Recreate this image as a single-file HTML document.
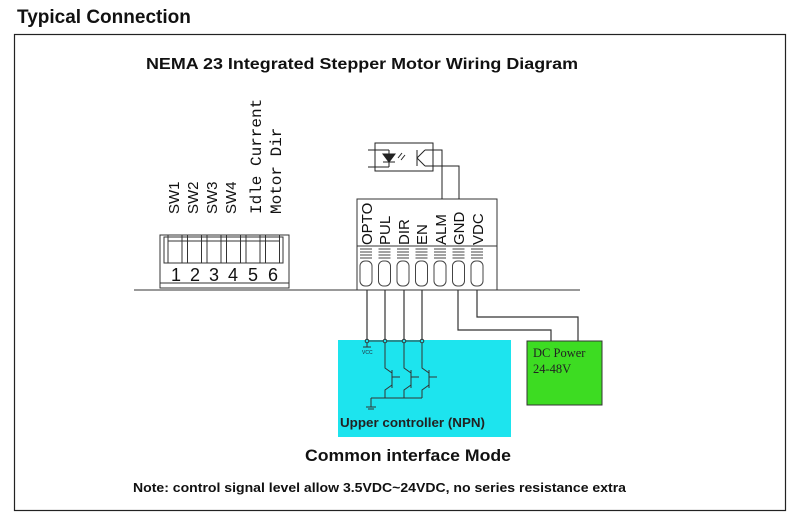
<!DOCTYPE html>
<html><head><meta charset="utf-8"><style>
body{margin:0;background:#fff;}
svg{display:block}
</style></head><body>
<svg width="800" height="521" viewBox="0 0 800 521" xmlns="http://www.w3.org/2000/svg" font-family="Liberation Sans, sans-serif">
<rect x="0" y="0" width="800" height="521" fill="#fff"/>
<text x="17" y="23" font-size="19" font-weight="bold" fill="#111">Typical Connection</text>
<rect x="14.5" y="34.5" width="771" height="476" fill="none" stroke="#222" stroke-width="1.2"/>
<text x="362" y="69" font-size="16" font-weight="bold" text-anchor="middle" fill="#111" textLength="432" lengthAdjust="spacingAndGlyphs">NEMA 23 Integrated Stepper Motor Wiring Diagram</text>

<g stroke="#333" fill="none" stroke-width="1">
<line x1="134" y1="290" x2="580" y2="290"/>
<rect x="160" y="235" width="129" height="53"/>
<line x1="160" y1="283" x2="289" y2="283"/>
<rect x="164" y="237" width="119" height="26" fill="#fff"/>
<g>
<rect x="168" y="235" width="14" height="28"/><rect x="187.5" y="235" width="14" height="28"/>
<rect x="207" y="235" width="14" height="28"/><rect x="226.5" y="235" width="14" height="28"/>
<rect x="246" y="235" width="14" height="28"/><rect x="265.5" y="235" width="14" height="28"/>
<line x1="168" y1="241" x2="280" y2="241"/>
</g>
<rect x="357" y="199" width="140" height="91"/>
<line x1="357" y1="246" x2="497" y2="246"/>
</g>
<g stroke="#444" stroke-width="1" fill="none">
<g id="c">
<line x1="360" y1="249" x2="372" y2="249"/><line x1="360" y1="252" x2="372" y2="252"/><line x1="360" y1="255" x2="372" y2="255"/><line x1="360" y1="258" x2="372" y2="258"/>
<rect x="360" y="261" width="12" height="25" rx="5"/>
</g>
<use href="#c" x="18.5"/><use href="#c" x="37"/><use href="#c" x="55.5"/><use href="#c" x="74"/><use href="#c" x="92.5"/><use href="#c" x="111"/>
</g>
<g font-size="18" fill="#111" text-anchor="middle">
<text x="176" y="281">1</text><text x="195" y="281">2</text><text x="214" y="281">3</text>
<text x="233" y="281">4</text><text x="253" y="281">5</text><text x="273" y="281">6</text>
</g>
<g font-size="15" fill="#111">
<text transform="translate(179,214) rotate(-90)">SW1</text>
<text transform="translate(198,214) rotate(-90)">SW2</text>
<text transform="translate(217,214) rotate(-90)">SW3</text>
<text transform="translate(236,214) rotate(-90)">SW4</text>
<text transform="translate(261,214) rotate(-90)" font-family="Liberation Mono, monospace" font-size="16">Idle Current</text>
<text transform="translate(281,214) rotate(-90)" font-family="Liberation Mono, monospace" font-size="16">Motor Dir</text>
</g>
<g font-size="15" fill="#111">
<text transform="translate(372,245) rotate(-90)">OPTO</text>
<text transform="translate(390,245) rotate(-90)">PUL</text>
<text transform="translate(409,245) rotate(-90)">DIR</text>
<text transform="translate(427,245) rotate(-90)">EN</text>
<text transform="translate(446,245) rotate(-90)">ALM</text>
<text transform="translate(464,245) rotate(-90)">GND</text>
<text transform="translate(483,245) rotate(-90)">VDC</text>
</g>
<g stroke="#222" fill="none" stroke-width="1">
<rect x="375" y="143" width="58" height="28"/>
<line x1="368" y1="150" x2="389" y2="150"/><line x1="368" y1="167" x2="389" y2="167"/>
<line x1="389" y1="150" x2="389" y2="167"/>
<path d="M383 154 L395 154 L389 162 Z" fill="#222"/>
<line x1="383" y1="162" x2="395" y2="162"/>
<line x1="398" y1="158" x2="402" y2="153"/><line x1="401" y1="160" x2="405" y2="155"/>
<line x1="417" y1="150" x2="417" y2="166"/>
<line x1="417" y1="158" x2="425" y2="150"/><line x1="417" y1="158" x2="425" y2="166"/>
<polyline points="425,150 442,150 442,199"/>
<polyline points="425,166 459,166 459,199"/>
</g>
<g stroke="#333" fill="none" stroke-width="1.2">
<line x1="367" y1="290" x2="367" y2="341"/>
<line x1="385" y1="290" x2="385" y2="341"/>
<line x1="404" y1="290" x2="404" y2="341"/>
<line x1="422" y1="290" x2="422" y2="341"/>
<polyline points="458,290 458,330 551,330 551,341"/>
<polyline points="477,290 477,317 578,317 578,341"/>
</g>
<rect x="338" y="340" width="173" height="97" fill="#1de4ee"/>
<rect x="527" y="341" width="75" height="64" fill="#3ddc22" stroke="#333" stroke-width="1"/>
<text x="533" y="357" font-family="Liberation Serif, serif" font-size="12.5" fill="#222">DC Power</text>
<text x="533" y="373" font-family="Liberation Serif, serif" font-size="12.5" fill="#222">24-48V</text>
<g stroke="#333" fill="none" stroke-width="1">
<line x1="367" y1="341" x2="422" y2="341"/>
<circle cx="367" cy="341" r="1.8" fill="#1de4ee"/><circle cx="385" cy="341" r="1.8" fill="#1de4ee"/>
<circle cx="404" cy="341" r="1.8" fill="#1de4ee"/><circle cx="422" cy="341" r="1.8" fill="#1de4ee"/>
<line x1="367" y1="343" x2="367" y2="347"/><line x1="363" y1="347" x2="371" y2="347"/>
<g id="t"><polyline points="385,343 385,368 392,373"/><polyline points="392,385 385,390 385,398"/><line x1="392" y1="370" x2="392" y2="388"/><line x1="392" y1="377" x2="400" y2="377"/></g>
<use href="#t" x="19"/><use href="#t" x="37"/>
<line x1="371" y1="398" x2="422" y2="398"/>
<line x1="371" y1="398" x2="371" y2="407"/><line x1="366" y1="407" x2="376" y2="407"/><line x1="368" y1="409" x2="374" y2="409"/>
</g>
<text x="362" y="354" font-size="5" fill="#223">VCC</text>
<text x="340" y="427" font-size="13" font-weight="bold" fill="#222" textLength="145" lengthAdjust="spacingAndGlyphs">Upper controller (NPN)</text>
<text x="305" y="461" font-size="16.5" font-weight="bold" fill="#111" textLength="206" lengthAdjust="spacingAndGlyphs">Common interface Mode</text>
<text x="133" y="492" font-size="13" font-weight="bold" fill="#111" textLength="493" lengthAdjust="spacingAndGlyphs">Note: control signal level allow 3.5VDC~24VDC, no series resistance extra</text>
</svg>
</body></html>
